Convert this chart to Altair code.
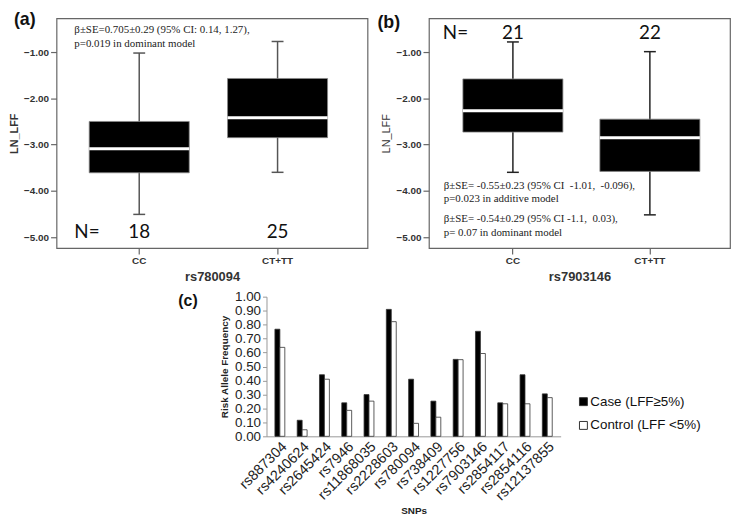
import altair as alt
import pandas as pd

# ---------------- data ----------------
# Panel (a): rs780094
a_groups = ["CC", "CT+TT"]
a_low = [-4.51, -3.60]
a_q1 = [-3.61, -2.85]
a_med = [-3.09, -2.42]
a_q3 = [-2.50, -1.57]
a_high = [-1.02, -0.77]
a_n = [18, 25]
a_notes = ["β±SE=0.705±0.29 (95% CI: 0.14, 1.27),", "p=0.019 in dominant model"]

# Panel (b): rs7903146
b_groups = ["CC", "CT+TT"]
b_low = [-3.60, -4.52]
b_q1 = [-2.73, -3.58]
b_med = [-2.27, -2.85]
b_q3 = [-1.58, -2.45]
b_high = [-0.78, -0.99]
b_n = [21, 22]
b_notes1 = ["β±SE= -0.55±0.23 (95% CI \u00a0-1.01, \u00a0-0.096),", "p=0.023 in additive model"]
b_notes2 = ["β±SE= -0.54±0.29 (95% CI -1.1, \u00a00.03),", "p= 0.07 in dominant model"]

# Panel (c): risk allele frequencies
snps = ["rs887304", "rs4240624", "rs2645424", "rs7946", "rs11868035", "rs2228603",
        "rs780094", "rs738409", "rs1227756", "rs7903146", "rs2854117", "rs2854116",
        "rs12137855"]
case_freq = [0.767, 0.115, 0.441, 0.240, 0.299, 0.909, 0.409, 0.252, 0.551, 0.752, 0.240, 0.441, 0.304]
control_freq = [0.637, 0.047, 0.409, 0.186, 0.252, 0.821, 0.093, 0.137, 0.549, 0.593, 0.233, 0.233, 0.277]
series = ["Case (LFF≥5%)", "Control (LFF <5%)"]
series_fill = ["black", "white"]

SANS = "Liberation Sans"
SERIF = "Liberation Serif"
Y_DOMAIN = [-5.24, -0.27]
H = 232
HC = 141


def box_panel(groups, low, q1, med, q3, high, n, xtitle, ytitle_weight, W, pi, po, align,
              whisk_color, tag, tag_xy, notes_list, n_y, nlab_x):
    df = pd.DataFrame({"g": groups, "low": low, "q1": q1, "med": med, "q3": q3,
                       "high": high, "n": n})
    xs = alt.X("g:N", sort=groups,
               scale=alt.Scale(paddingInner=pi, paddingOuter=po, align=align),
               axis=alt.Axis(title=xtitle, labelAngle=0, domain=False, tickColor="#666",
                             tickSize=6, tickWidth=1.2, labelFontSize=10,
                             labelFontWeight="bold", labelColor="#333", labelPadding=2,
                             titleFontSize=13, titleFontWeight="bold", titleColor="#333",
                             titlePadding=5, labelFont=SANS, titleFont=SANS))
    ysc = alt.Scale(domain=Y_DOMAIN, nice=False, zero=False)
    yax = alt.Axis(values=[-1, -2, -3, -4, -5], format=".2f", grid=False, domain=False,
                   tickColor="#666", tickSize=6, tickWidth=1.2, labelFontSize=10,
                   labelFontWeight="bold", labelColor="#333", labelPadding=2,
                   titleFontSize=11, titleFontWeight=ytitle_weight, titleColor="#333",
                   titlePadding=4, labelFont=SANS, titleFont=SANS)
    base = alt.Chart(df)
    whisk = base.mark_rule(color=whisk_color, strokeWidth=1.5).encode(
        x=xs, y=alt.Y("low:Q", scale=ysc, axis=yax, title="LN_LFF"), y2="high:Q")
    cap_lo = base.mark_tick(orient="horizontal", size=12, thickness=1.5, opacity=1,
                            color=whisk_color).encode(x=xs, y=alt.Y("low:Q", scale=ysc))
    cap_hi = base.mark_tick(orient="horizontal", size=12, thickness=1.5, opacity=1,
                            color=whisk_color).encode(x=xs, y=alt.Y("high:Q", scale=ysc))
    box = base.mark_bar(fill="black", stroke="#888", strokeWidth=0.8, opacity=1).encode(
        x=xs, y=alt.Y("q1:Q", scale=ysc), y2="q3:Q")
    median = base.mark_tick(orient="horizontal", size=101, thickness=3, opacity=1,
                            color="white").encode(x=xs, y=alt.Y("med:Q", scale=ysc))
    nums = base.mark_text(font="Lato", fontSize=19, color="#111",
                          baseline="middle").encode(x=xs, y=alt.value(n_y), text="n:Q")
    one = pd.DataFrame({"k": [0]})
    nlab = alt.Chart(one).mark_text(text="N=", font="Lato", fontSize=19, color="#111",
                                    align="left", baseline="middle").encode(
        x=alt.value(nlab_x), y=alt.value(n_y))
    tagm = alt.Chart(one).mark_text(text=tag, font=SANS, fontSize=18, fontWeight="bold",
                                    color="#111", align="left", baseline="top").encode(
        x=alt.value(tag_xy[0]), y=alt.value(tag_xy[1]))
    layers = [whisk, cap_lo, cap_hi, box, median, nums, nlab, tagm]
    for lines, (nx, ny) in notes_list:
        layers.append(alt.Chart(one).mark_text(text=lines, font=SERIF, fontSize=11,
                                               lineHeight=13.5, color="#222", align="left",
                                               baseline="top").encode(
            x=alt.value(nx), y=alt.value(ny)))
    return alt.layer(*layers).properties(
        width=W, height=H, view=alt.ViewBackground(stroke="#666", strokeWidth=1.2))


panel_a = box_panel(a_groups, a_low, a_q1, a_med, a_q3, a_high, a_n, "rs780094", "bold",
                    314, 0.277, 0.2625, 0.45, "#555", "(a)", (-43, -7),
                    [(a_notes, (18, 6))], H - 16, 18)
panel_b = box_panel(b_groups, b_low, b_q1, b_med, b_q3, b_high, b_n, "rs7903146", "normal",
                    304, 0.27, 0.234, 0.53, "#222", "(b)", (-52, -4),
                    [(b_notes1, (15, 163)), (b_notes2, (15, 197))], 15, 14)

# ---------------- panel (c) ----------------
df_c = pd.DataFrame({
    "snp": snps + snps,
    "series": [series[0]] * len(snps) + [series[1]] * len(snps),
    "freq": case_freq + control_freq,
})
bars = alt.Chart(df_c).mark_bar(stroke="#333", strokeWidth=0.8).encode(
    x=alt.X("snp:N", sort=snps,
            scale=alt.Scale(paddingInner=0.556, paddingOuter=0.378),
            axis=alt.Axis(title="SNPs", labelAngle=-45, ticks=False, domainColor="#999",
                          labelFontSize=14.5, labelFont=SANS, labelColor="#222",
                          labelPadding=3, labelOverlap=False, titleFontSize=10,
                          titleFontWeight="bold", titleFont=SANS, titleColor="#222",
                          titlePadding=3)),
    xOffset=alt.XOffset("series:N", sort=series,
                        scale=alt.Scale(paddingInner=0, paddingOuter=0)),
    y=alt.Y("freq:Q", scale=alt.Scale(domain=[0, 1], nice=False),
            axis=alt.Axis(values=[i / 10 for i in range(11)], format=".2f", grid=False,
                          domainColor="#999", tickColor="#999", tickSize=4,
                          labelFontSize=13.5, labelFont=SANS, labelColor="#222",
                          labelPadding=2, labelOverlap=False, labelBound=False,
                          title="Risk Allele Frequency", titleFontSize=10,
                          titleFontWeight="bold", titleFont=SANS, titleColor="#222",
                          titlePadding=5)),
    fill=alt.Fill("series:N", sort=series,
                  scale=alt.Scale(domain=series, range=series_fill), legend=None),
)
one_c = pd.DataFrame({"k": [0]})
tag_c = alt.Chart(one_c).mark_text(
    text="(c)", font=SANS, fontSize=16, fontWeight="bold", color="#111",
    align="left", baseline="top").encode(x=alt.value(-89), y=alt.value(-4))

# manual legend (right of the plot, low down)
legend_layers = []
for i, (name, fill) in enumerate(zip(series, series_fill)):
    ly = 106 + 24 * i
    legend_layers.append(alt.Chart(one_c).mark_square(
        size=64, filled=True, fill=fill, stroke="#333", strokeWidth=1, opacity=1).encode(
        x=alt.value(320), y=alt.value(ly)))
    legend_layers.append(alt.Chart(one_c).mark_text(
        text=name, font=SANS, fontSize=13.5, color="#111", align="left",
        baseline="middle").encode(x=alt.value(327), y=alt.value(ly)))

panel_c = alt.layer(bars, tag_c, *legend_layers).properties(width=297, height=HC)

spacer = alt.Chart(pd.DataFrame({"k": [0]})).mark_point(opacity=0).properties(
    width=123, height=10)

top = alt.hconcat(panel_a, panel_b, spacing=8)
bottom = alt.hconcat(spacer, panel_c, spacing=0)

chart = alt.vconcat(top, bottom, spacing=5).properties(padding=0).configure(
    font=SANS).configure_view(strokeWidth=0)

chart.save("out.html", embed_options={"renderer": "svg", "actions": False})
